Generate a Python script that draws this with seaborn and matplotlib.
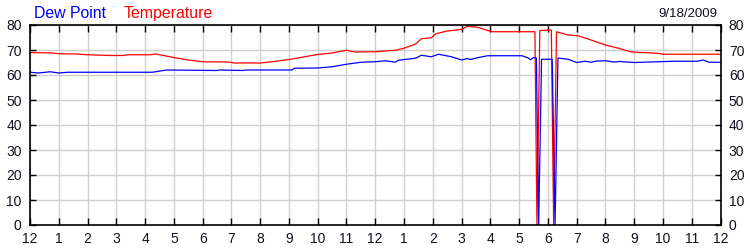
import matplotlib
matplotlib.use("Agg")
import matplotlib.pyplot as plt
import seaborn as sns
import pandas as pd

# ---- data (hours since midnight, °F) ----
temp_hours = [0, 0.8, 1.0, 1.6, 2.0, 2.8, 3.2, 3.4, 4.2, 4.35, 4.55, 5.0, 5.5, 6.0,
              6.9, 7.1, 8.0, 8.5, 9.0, 9.5, 10.0, 10.5, 11.0, 11.3, 12.0, 12.7, 13.0,
              13.4, 13.6, 13.95, 14.1, 14.5, 15.0, 15.2, 15.55, 16.05, 17.55, 17.62,
              17.72, 18.12, 18.2, 18.3, 18.7, 19.05, 19.5, 20.0, 20.45, 20.9, 21.8,
              22.0, 24.0]
temp_values = [69.0, 68.8, 68.5, 68.4, 68.1, 67.8, 67.8, 68.1, 68.1, 68.4, 68.0, 67.0,
               66.0, 65.3, 65.2, 64.8, 64.8, 65.4, 66.2, 67.2, 68.2, 68.8, 69.9, 69.2,
               69.3, 69.9, 70.7, 72.4, 74.5, 74.9, 76.5, 77.6, 78.2, 79.5, 79.1, 77.3,
               77.3, 0.0, 77.8, 78.0, 0.0, 77.3, 76.0, 75.7, 74.0, 72.0, 70.7, 69.2,
               68.7, 68.3, 68.3]

dew_hours = [0, 0.3, 0.7, 1.0, 1.3, 4.25, 4.75, 6.5, 6.6, 7.4, 7.5, 9.1, 9.2, 10.0,
             10.5, 11.0, 11.5, 12.0, 12.35, 12.7, 12.8, 13.4, 13.6, 13.95, 14.2, 14.65,
             15.0, 15.2, 15.3, 15.55, 15.9, 17.1, 17.3, 17.4, 17.5, 17.6, 17.68, 17.78,
             18.15, 18.25, 18.35, 18.7, 19.0, 19.3, 19.5, 19.7, 20.0, 20.3, 20.5, 21.0,
             22.4, 23.2, 23.4, 23.6, 24.0]
dew_values = [61.1, 60.8, 61.3, 60.8, 61.1, 61.1, 62.0, 61.8, 62.0, 61.8, 62.0, 62.0,
              62.7, 62.8, 63.3, 64.3, 65.1, 65.3, 65.7, 65.1, 65.9, 66.7, 67.9, 67.3,
              68.3, 67.3, 66.0, 66.6, 66.2, 66.9, 67.7, 67.7, 66.9, 66.1, 67.0, 66.8,
              0.0, 66.3, 66.3, 0.0, 66.8, 66.3, 65.0, 65.5, 65.1, 65.6, 65.7, 65.2,
              65.4, 65.0, 65.5, 65.5, 66.0, 65.1, 65.1]

hour_labels = ["12", "1", "2", "3", "4", "5", "6", "7", "8", "9", "10", "11",
               "12", "1", "2", "3", "4", "5", "6", "7", "8", "9", "10", "11", "12"]
y_ticks = [0, 10, 20, 30, 40, 50, 60, 70, 80]
date_label = "9/18/2009"

# ---- style ----
sns.set_style("white")
plt.rcParams["font.family"] = ["Liberation Sans", "DejaVu Sans"]

fig = plt.figure(figsize=(7.5, 2.5), dpi=100)
ax = fig.add_axes([30 / 750, 25 / 250, 690.5 / 750, 200 / 250])

df_t = pd.DataFrame({"hour": temp_hours, "value": temp_values})
df_d = pd.DataFrame({"hour": dew_hours, "value": dew_values})

sns.lineplot(data=df_t, x="hour", y="value", ax=ax, color="#ff0000", lw=0.9,
             estimator=None, sort=False)
sns.lineplot(data=df_d, x="hour", y="value", ax=ax, color="#0000ff", lw=0.9,
             estimator=None, sort=False)

ax.set_xlim(0, 24)
ax.set_ylim(0, 80)
ax.set_xticks(range(25))
ax.set_xticklabels(hour_labels)
ax.set_yticks(y_ticks)
ax.set_xlabel("")
ax.set_ylabel("")

ax.grid(True, color="#d0d0d0", lw=1.0)
ax.set_axisbelow(True)
for s in ax.spines.values():
    s.set_color("black")
    s.set_linewidth(1.2)
    s.set_visible(True)

ax.tick_params(axis="x", direction="in", length=5, width=1, color="black",
               top=True, bottom=True, labelsize=10, pad=5, labelcolor="#111122")
ax.tick_params(axis="y", direction="in", length=4, width=1, color="black",
               left=True, right=True, labelleft=True, labelright=True,
               labelsize=10, pad=6, labelcolor="#111122")

fig.text(34 / 750, 1 - 17.5 / 250, "Dew Point", color="#0000ff", fontsize=11.4,
         va="baseline", ha="left")
fig.text(124 / 750, 1 - 17.5 / 250, "Temperature", color="#ff0000", fontsize=11.4,
         va="baseline", ha="left")
fig.text(717 / 750, 1 - 16.7 / 250, date_label, color="#111122", fontsize=9.5,
         va="baseline", ha="right")

fig.savefig("out.png", dpi=100)
